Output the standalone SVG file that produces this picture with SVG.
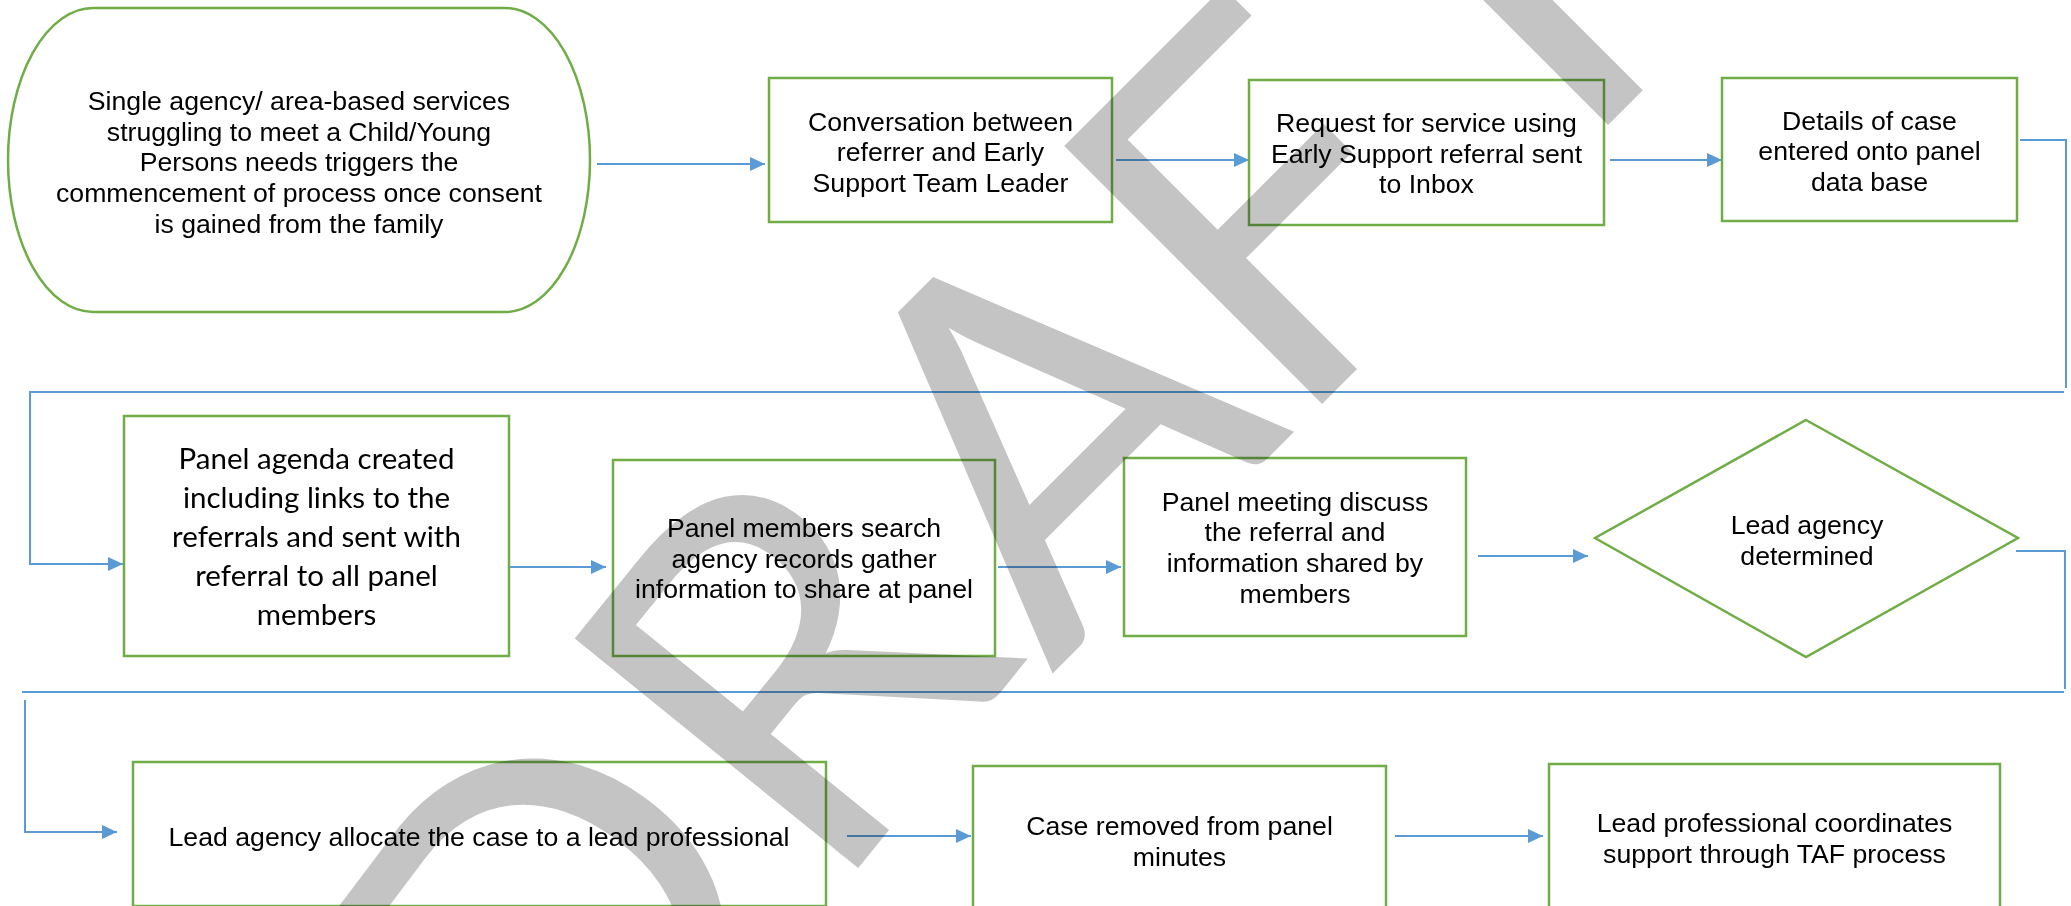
<svg xmlns="http://www.w3.org/2000/svg" width="2071" height="906" viewBox="0 0 2071 906">
<style>
.box{fill:#ffffff;stroke:#70ad47;stroke-width:2.5}
.t{font-family:"Liberation Sans",Arial,sans-serif;font-size:26.67px;fill:#000000;text-anchor:middle}
.tc{font-family:Lato,"Open Sans",sans-serif;font-size:29.5px;fill:#000000;text-anchor:middle}
.c{fill:none;stroke:#5b9bd5;stroke-width:2}
.wm{font-family:Lato,"Open Sans",sans-serif;font-size:509px;fill:#c4c4c4;mix-blend-mode:multiply}
</style>
<defs>
<marker id="ah" markerUnits="userSpaceOnUse" markerWidth="16" markerHeight="16" refX="15" refY="7" orient="auto">
<path d="M0,0 L15,7 L0,14 z" fill="#5b9bd5"/>
</marker>
</defs>
<rect width="2071" height="906" fill="#ffffff"/>
<g id="connectors">
<path class="c" d="M597,164 H765" marker-end="url(#ah)"/>
<path class="c" d="M1116,160 H1249" marker-end="url(#ah)"/>
<path class="c" d="M1610,160 H1722" marker-end="url(#ah)"/>
<path class="c" d="M2020,140 H2066 V388"/>
<path class="c" d="M2064,392 H30 V564 H123" marker-end="url(#ah)"/>
<path class="c" d="M509,567 H606" marker-end="url(#ah)"/>
<path class="c" d="M998,567 H1121" marker-end="url(#ah)"/>
<path class="c" d="M1478,556 H1588" marker-end="url(#ah)"/>
<path class="c" d="M2016,551 H2065 V689"/>
<path class="c" d="M2064,692 H22"/>
<path class="c" d="M25,700 V832 H117" marker-end="url(#ah)"/>
<path class="c" d="M847,836 H971" marker-end="url(#ah)"/>
<path class="c" d="M1395,836 H1543" marker-end="url(#ah)"/>
</g>
<g id="n1">
<rect class="box" x="8" y="8" width="582" height="304" rx="85" ry="152"/>
<text class="t" x="299" y="110">Single agency/ area-based services</text>
<text class="t" x="299" y="140.7">struggling to meet a Child/Young</text>
<text class="t" x="299" y="171.4">Persons needs triggers the</text>
<text class="t" x="299" y="202.1">commencement of process once consent</text>
<text class="t" x="299" y="232.8">is gained from the family</text>
</g>
<g id="n2">
<rect class="box" x="769" y="78" width="343" height="144"/>
<text class="t" x="940.5" y="130.5">Conversation between</text>
<text class="t" x="940.5" y="161.2">referrer and Early</text>
<text class="t" x="940.5" y="191.9">Support Team Leader</text>
</g>
<g id="n3">
<rect class="box" x="1249" y="80" width="355" height="145"/>
<text class="t" x="1426.5" y="132">Request for service using</text>
<text class="t" x="1426.5" y="162.7">Early Support referral sent</text>
<text class="t" x="1426.5" y="193.4">to Inbox</text>
</g>
<g id="n4">
<rect class="box" x="1722" y="78" width="295" height="143"/>
<text class="t" x="1869.5" y="129.5">Details of case</text>
<text class="t" x="1869.5" y="160.2">entered onto panel</text>
<text class="t" x="1869.5" y="190.9">data base</text>
</g>
<g id="n5">
<rect class="box" x="124" y="416" width="385" height="240"/>
<text class="tc" x="316.5" y="469">Panel agenda created</text>
<text class="tc" x="316.5" y="508">including links to the</text>
<text class="tc" x="316.5" y="547">referrals and sent with</text>
<text class="tc" x="316.5" y="586">referral to all panel</text>
<text class="tc" x="316.5" y="625">members</text>
</g>
<g id="n6">
<rect class="box" x="613" y="460" width="382" height="196"/>
<text class="t" x="804" y="537">Panel members search</text>
<text class="t" x="804" y="567.7">agency records gather</text>
<text class="t" x="804" y="598.4">information to share at panel</text>
</g>
<g id="n7">
<rect class="box" x="1124" y="458" width="342" height="178"/>
<text class="t" x="1295" y="510.5">Panel meeting discuss</text>
<text class="t" x="1295" y="541.2">the referral and</text>
<text class="t" x="1295" y="571.9">information shared by</text>
<text class="t" x="1295" y="602.6">members</text>
</g>
<g id="n8">
<polygon class="box" points="1806,420 2018,538 1806,657 1595,538"/>
<text class="t" x="1807" y="534">Lead agency</text>
<text class="t" x="1807" y="564.7">determined</text>
</g>
<g id="n9">
<rect class="box" x="133" y="762" width="693" height="144"/>
<text class="t" x="479" y="846">Lead agency allocate the case to a lead professional</text>
</g>
<g id="n10">
<rect class="box" x="973" y="766" width="413" height="160"/>
<text class="t" x="1179.5" y="835">Case removed from panel</text>
<text class="t" x="1179.5" y="865.7">minutes</text>
</g>
<g id="n11">
<rect class="box" x="1549" y="764" width="451" height="160"/>
<text class="t" x="1774.5" y="832">Lead professional coordinates</text>
<text class="t" x="1774.5" y="862.7">support through TAF process</text>
</g>
<g id="watermark">
<text class="wm" transform="translate(587,1139) rotate(-45)" x="-51 337 657 993 1313" y="34 5 0 0 5" rotate="-8 -6 0 0 0">DRAFT</text>
</g>
</svg>
